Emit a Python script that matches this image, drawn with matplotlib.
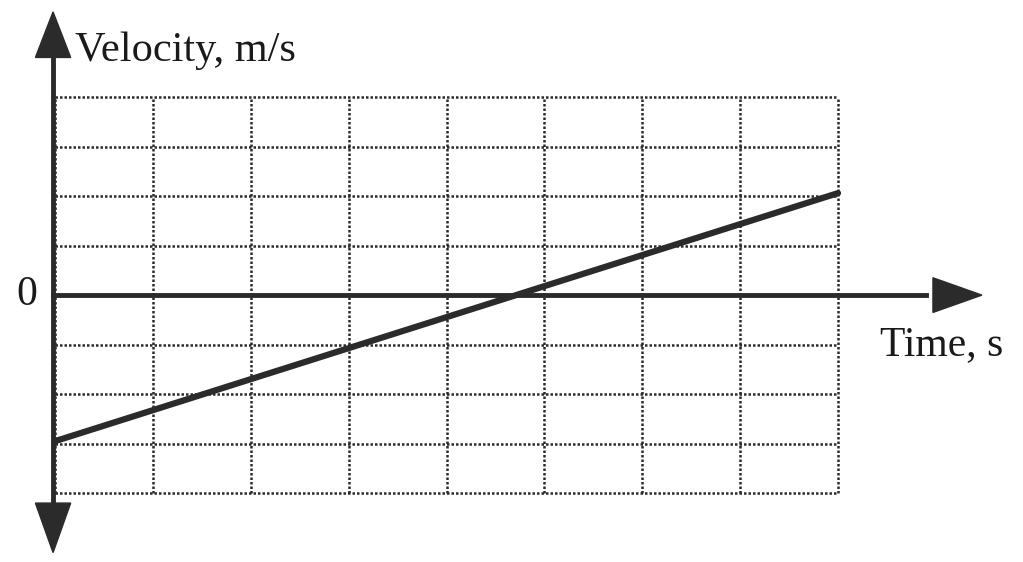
import numpy as np
import matplotlib.pyplot as plt
from matplotlib.patches import Polygon

# values (grid units)
time = [0, 8]
velocity = [-2.95, 2.06]
n_cols = 8
rows_up = 4
rows_down = 4

fig = plt.figure(figsize=(10.23, 5.62), dpi=100)
ax = fig.add_axes([0, 0, 1, 1])
ax.set_xlim(-0.562, 9.89)
ax.set_ylim(-5.39, 5.96)
ax.axis('off')

ink = '#2b2b2b'
serif = ['Liberation Serif', 'DejaVu Serif']

# dotted grid
for x in range(n_cols + 1):
    ax.plot([x, x], [-rows_down, rows_up], color=ink, lw=1.8, ls=(0, (1, 0.8)), zorder=1)
for y in range(-rows_down, rows_up + 1):
    ax.plot([0, n_cols], [y, y], color=ink, lw=1.8, ls=(0, (1, 0.8)), zorder=1)

# axes
ax.plot([-0.02, -0.02], [-4.2, 4.8], color=ink, lw=3.5, zorder=3)
ax.plot([-0.02, 8.9], [0, 0], color=ink, lw=3.5, zorder=3)

# arrow heads
ax.add_patch(Polygon([[-0.2, 4.8], [0.16, 4.8], [-0.02, 5.72]], closed=True, color=ink, zorder=4))
ax.add_patch(Polygon([[-0.2, -4.2], [0.16, -4.2], [-0.02, -5.2]], closed=True, color=ink, zorder=4))
ax.add_patch(Polygon([[8.97, 0.35], [8.97, -0.35], [9.47, 0]], closed=True, color=ink, zorder=4))

# velocity line
ax.plot(time, velocity, color=ink, lw=4.5, solid_capstyle='round', zorder=5)

# labels
ax.text(0.2, 4.72, 'Velocity, m/s', fontsize=30.5, family=serif, color='#1a1a1a',
        ha='left', va='baseline')
ax.text(-0.29, 0, '0', fontsize=30, family=serif, color='#1a1a1a',
        ha='center', va='center')
ax.text(8.43, -1.22, 'Time, s', fontsize=30, family=serif, color='#1a1a1a',
        ha='left', va='baseline')

fig.savefig('out.png', dpi=100)
